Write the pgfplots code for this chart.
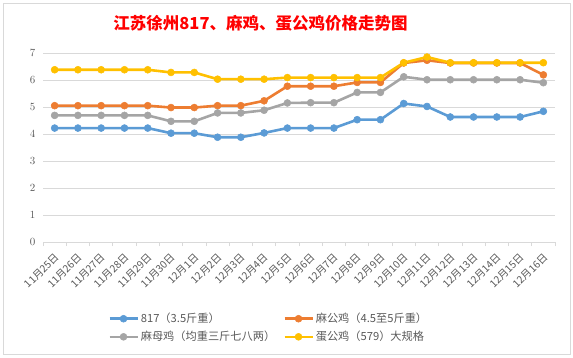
\documentclass[border=0pt]{standalone}
\usepackage{pgfplots}
\pgfplotsset{compat=1.18}
\usepackage{fontspec}
\setmainfont{Noto Sans CJK SC}
\definecolor{cblue}{HTML}{5B9BD5}
\definecolor{corange}{HTML}{ED7D31}
\definecolor{cgray}{HTML}{A5A5A5}
\definecolor{cgold}{HTML}{FFC000}
\definecolor{cgrid}{HTML}{D9D9D9}
\definecolor{ctext}{HTML}{595959}
\begin{document}
\begin{tikzpicture}
\path[use as bounding box] (0pt,0pt) rectangle (573pt,357pt);
\draw[cgrid, line width=0.75pt] (3pt,3pt) rectangle (570pt,354pt);
\node[text=red, font=\fontsize{16.5}{19}\selectfont\bfseries] at (260.5pt,334pt) {江苏徐州817、麻鸡、蛋公鸡价格走势图};
\begin{axis}[
  at={(43pt,115pt)}, anchor=south west, scale only axis,
  width=512pt, height=189pt,
  xmin=-0.5, xmax=21.5, ymin=0, ymax=7,
  ytick={0,...,7},
  ymajorgrids, grid style={cgrid, line width=0.75pt},
  axis y line*=left, y axis line style={draw=none},
  axis x line*=bottom, x axis line style={cgrid, line width=0.9pt},
  xtick={0,...,21},
  xticklabels={11月25日,11月26日,11月27日,11月28日,11月29日,11月30日,12月1日,12月2日,12月3日,12月4日,12月5日,12月6日,12月7日,12月8日,12月9日,12月10日,12月11日,12月12日,12月13日,12月14日,12月15日,12月16日},
  major tick length=0pt,
  extra x ticks={-0.5,0.5,1.5,2.5,3.5,4.5,5.5,6.5,7.5,8.5,9.5,10.5,11.5,12.5,13.5,14.5,15.5,16.5,17.5,18.5,19.5,20.5,21.5},
  extra x tick labels={},
  extra x tick style={major tick length=4pt, tick align=outside, tick style={cgrid, line width=0.75pt}, grid=none},
  yticklabel style={text=ctext, font=\fontsize{10.5}{12}\selectfont, xshift=-4pt},
  xticklabel style={text=ctext, font=\fontsize{10.3}{12}\selectfont, xshift=5pt, yshift=-11pt, rotate=45, anchor=east},
  legend columns=2,
  legend cell align=left,
  legend style={draw=none, fill=none, at={(axis description cs:0.127,-0.365)}, anchor=north west,
    font=\fontsize{11.2}{13}\selectfont, text=ctext, inner sep=0pt,
    /tikz/every even column/.append style={column sep=6pt}, row sep=3pt},
  legend image code/.code={\draw[mark repeat=2,mark phase=2,#1] plot coordinates {(0pt,0pt) (14pt,0pt) (28pt,0pt)};},
  every axis plot/.append style={line width=2.6pt, mark=*, mark size=3.5pt},
]
\addplot[cblue, mark options={solid, fill=cblue, draw=cblue, line width=0.5pt}] coordinates {
(0,4.22) (1,4.22) (2,4.22) (3,4.22) (4,4.22) (5,4.03) (6,4.03) (7,3.88) (8,3.88) (9,4.04) (10,4.22)
(11,4.22) (12,4.22) (13,4.53) (14,4.53) (15,5.13) (16,5.02) (17,4.63) (18,4.63) (19,4.63) (20,4.63) (21,4.84)};
\addlegendentry{817（3.5斤重）}
\addplot[corange, mark options={solid, fill=corange, draw=corange, line width=0.5pt}] coordinates {
(0,5.05) (1,5.05) (2,5.05) (3,5.05) (4,5.05) (5,4.98) (6,4.98) (7,5.05) (8,5.05) (9,5.23) (10,5.77)
(11,5.77) (12,5.77) (13,5.91) (14,5.91) (15,6.63) (16,6.73) (17,6.63) (18,6.63) (19,6.63) (20,6.63) (21,6.19)};
\addlegendentry{麻公鸡（4.5至5斤重）}
\addplot[cgray, mark options={solid, fill=cgray, draw=cgray, line width=0.5pt}] coordinates {
(0,4.69) (1,4.69) (2,4.69) (3,4.69) (4,4.69) (5,4.47) (6,4.47) (7,4.78) (8,4.78) (9,4.88) (10,5.15)
(11,5.16) (12,5.16) (13,5.54) (14,5.54) (15,6.12) (16,6.01) (17,6.01) (18,6.01) (19,6.01) (20,6.01) (21,5.90)};
\addlegendentry{麻母鸡（均重三斤七八两）}
\addplot[cgold, mark options={solid, fill=cgold, draw=cgold, line width=0.5pt}] coordinates {
(0,6.38) (1,6.38) (2,6.38) (3,6.38) (4,6.38) (5,6.28) (6,6.28) (7,6.03) (8,6.03) (9,6.03) (10,6.09)
(11,6.09) (12,6.09) (13,6.09) (14,6.09) (15,6.64) (16,6.85) (17,6.64) (18,6.64) (19,6.64) (20,6.64) (21,6.64)};
\addlegendentry{蛋公鸡（579）大规格}
\end{axis}
\end{tikzpicture}
\end{document}
